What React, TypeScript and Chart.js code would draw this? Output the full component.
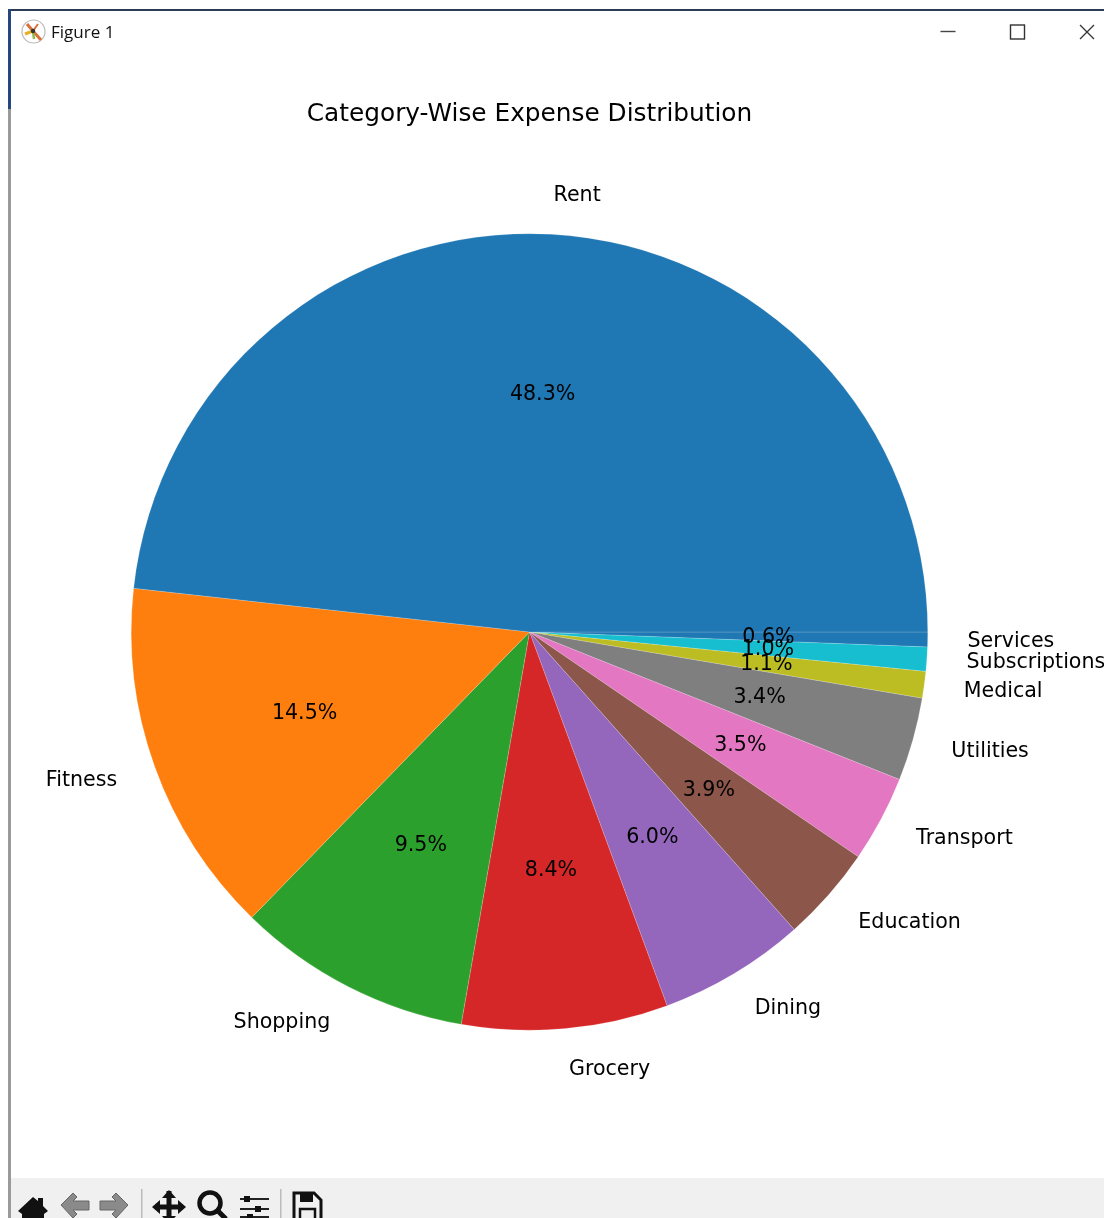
import React, { useEffect, useRef } from "react";
import { Chart, registerables } from "chart.js";

Chart.register(...registerables);

const TITLE = "Category-Wise Expense Distribution";
const categories = ["Rent", "Fitness", "Shopping", "Grocery", "Dining", "Education", "Transport", "Utilities", "Medical", "Subscriptions", "Services"];
const shares = [48.26, 14.47, 9.54, 8.36, 5.96, 3.88, 3.51, 3.38, 1.08, 0.98, 0.6];
const colors = ["#1f77b4", "#ff7f0e", "#2ca02c", "#d62728", "#9467bd", "#8c564b", "#e377c2", "#7f7f7f", "#bcbd22", "#17becf", "#1f77b4"];

const FONT = "'DejaVu Sans'";
const LABEL_PX = 20.6;

const pieLabels = {
  id: "pieLabels",
  afterDatasetsDraw(chart: any) {
    const { ctx } = chart;
    const meta = chart.getDatasetMeta(0);
    const names: string[] = chart.data.labels;
    const values: number[] = chart.data.datasets[0].data;
    ctx.save();
    ctx.font = `${LABEL_PX}px ${FONT}`;
    ctx.fillStyle = "#000";
    ctx.textBaseline = "middle";
    // Chart.js sweeps clockwise only, so the data is reversed; walk it so the stacking of labels matches.
    for (let i = names.length - 1; i >= 0; i--) {
      const arc = meta.data[i];
      const { x, y, startAngle, endAngle, outerRadius } = arc.getProps(["x", "y", "startAngle", "endAngle", "outerRadius"], true);
      const mid = (startAngle + endAngle) / 2;
      const c = Math.cos(mid);
      const s = Math.sin(mid);
      const lx = x + outerRadius * 1.1 * c;
      const ly = y + outerRadius * 1.1 * s + 1;
      ctx.textAlign = c > 0 ? "left" : "right";
      ctx.fillText(names[i], lx, ly);
      ctx.textAlign = "center";
      ctx.fillText(`${values[i].toFixed(1)}%`, x + outerRadius * 0.6 * c, y + outerRadius * 0.6 * s + 1);
    }
    ctx.restore();
  },
};

const abs = (l: number, t: number, w: number, h: number, bg: string): React.CSSProperties => ({
  position: "absolute", left: l, top: t, width: w, height: h, background: bg,
});

function Chrome() {
  return (
    <>
      <div style={abs(0, 0, 1104, 9, "#fff")} />
      <div style={abs(8, 9, 1096, 2, "#2b3a55")} />
      <div style={abs(8, 9, 3, 100, "#24477f")} />
      <div style={abs(8, 109, 3, 1109, "#9a9a9a")} />
      <svg style={{ position: "absolute", left: 20, top: 18 }} width="28" height="28" viewBox="0 0 28 28">
        <circle cx="13.5" cy="13.5" r="11.5" fill="#fff" stroke="#bbb" strokeWidth="1.2" />
        <path d="M13 13 L7 6 M13 13 L21 22" stroke="#d9703a" strokeWidth="3" />
        <path d="M13 13 L5 16" stroke="#e8b020" strokeWidth="3" />
        <path d="M13 13 L14 21" stroke="#8ab84a" strokeWidth="2.5" />
        <path d="M13 13 L18 6" stroke="#d9703a" strokeWidth="2" />
        <circle cx="13" cy="13" r="2.2" fill="#333" />
      </svg>
      <div style={{ position: "absolute", left: 51, top: 20, fontFamily: "'Open Sans'", fontSize: 17, color: "#111", lineHeight: "24px" }}>Figure 1</div>
      <svg style={{ position: "absolute", left: 930, top: 18 }} width="174" height="28">
        <path d="M10.5 13.5 H25.5" stroke="#444" strokeWidth="1.4" />
        <rect x="80.5" y="7" width="14" height="14" fill="none" stroke="#333" strokeWidth="1.4" />
        <path d="M150 7 L164 21 M164 7 L150 21" stroke="#333" strokeWidth="1.3" />
      </svg>
      <div style={abs(11, 1178, 1093, 40, "#f0f0f0")} />
      <svg style={{ position: "absolute", left: 11, top: 1178 }} width="340" height="40">
        <path d="M7 33 L22 19 L27 23 L27 20 L32 20 L32 28 L37 33 L33 36 L33 42 L11 42 L11 36 Z" fill="#111" />
        <path d="M50 27 L62 15 L66 19 L62 23 L78 23 L78 32 L62 32 L66 36 L62 40 Z" fill="#8a8a8a" stroke="#666" strokeWidth="1" />
        <path d="M117 27 L105 15 L101 19 L105 23 L89 23 L89 32 L105 32 L101 36 L105 40 Z" fill="#8a8a8a" stroke="#666" strokeWidth="1" />
        <rect x="130" y="11" width="1.5" height="29" fill="#bbb" />
        <path d="M158 13 V40 M144 29 H172" stroke="#111" strokeWidth="5" />
        <path d="M158 12 L165 20 H151 Z M158 46 L165 38 H151 Z M141 29 L149 22 V36 Z M175 29 L167 22 V36 Z" fill="#111" />
        <circle cx="199" cy="25" r="10.5" fill="none" stroke="#111" strokeWidth="4.5" />
        <path d="M207 33 L215 41" stroke="#111" strokeWidth="5" />
        <path d="M229 21 H258 M229 31 H258 M229 39 H258" stroke="#222" strokeWidth="2" />
        <rect x="233" y="18" width="6" height="6" fill="#111" />
        <rect x="244" y="28" width="6" height="6" fill="#111" />
        <rect x="236" y="36" width="6" height="6" fill="#111" />
        <rect x="269" y="11" width="1.5" height="29" fill="#bbb" />
        <path d="M283 15 H303 L310 22 V42 H283 Z" fill="none" stroke="#111" strokeWidth="3" />
        <rect x="289" y="15" width="13" height="9" fill="#111" />
        <rect x="289" y="31" width="15" height="11" fill="none" stroke="#111" strokeWidth="2.5" />
      </svg>
    </>
  );
}

export default function App() {
  const ref = useRef<HTMLCanvasElement>(null);
  useEffect(() => {
    document.body.style.margin = "0";
    document.body.style.background = "#fff";
    const chart = new Chart(ref.current!, {
      type: "pie",
      data: {
        labels: [...categories].reverse(),
        datasets: [{
          data: [...shares].reverse(),
          backgroundColor: [...colors].reverse(),
          borderColor: "rgba(255,255,255,0.35)",
          borderWidth: 0.5,
        }],
      },
      options: {
        animation: false,
        responsive: false,
        rotation: 90,
        layout: { padding: { left: 131, right: 176, top: 100, bottom: 187.5 } },
        plugins: {
          legend: { display: false },
          tooltip: { enabled: false },
          title: {
            display: true,
            text: TITLE,
            color: "#000",
            fullSize: false,
            font: { family: FONT, size: 24.8, weight: "normal", lineHeight: 1.2 },
            padding: { top: 0, bottom: 103.7 },
          },
        },
      },
      plugins: [pieLabels],
    } as any);
    return () => chart.destroy();
  }, []);
  return (
    <div style={{ position: "relative", width: 1104, height: 1218, overflow: "hidden", background: "#fff" }}>
      <canvas ref={ref} width={1104} height={1218} style={{ position: "absolute", left: 0, top: 0, width: 1104, height: 1218 }} />
      <Chrome />
    </div>
  );
}
